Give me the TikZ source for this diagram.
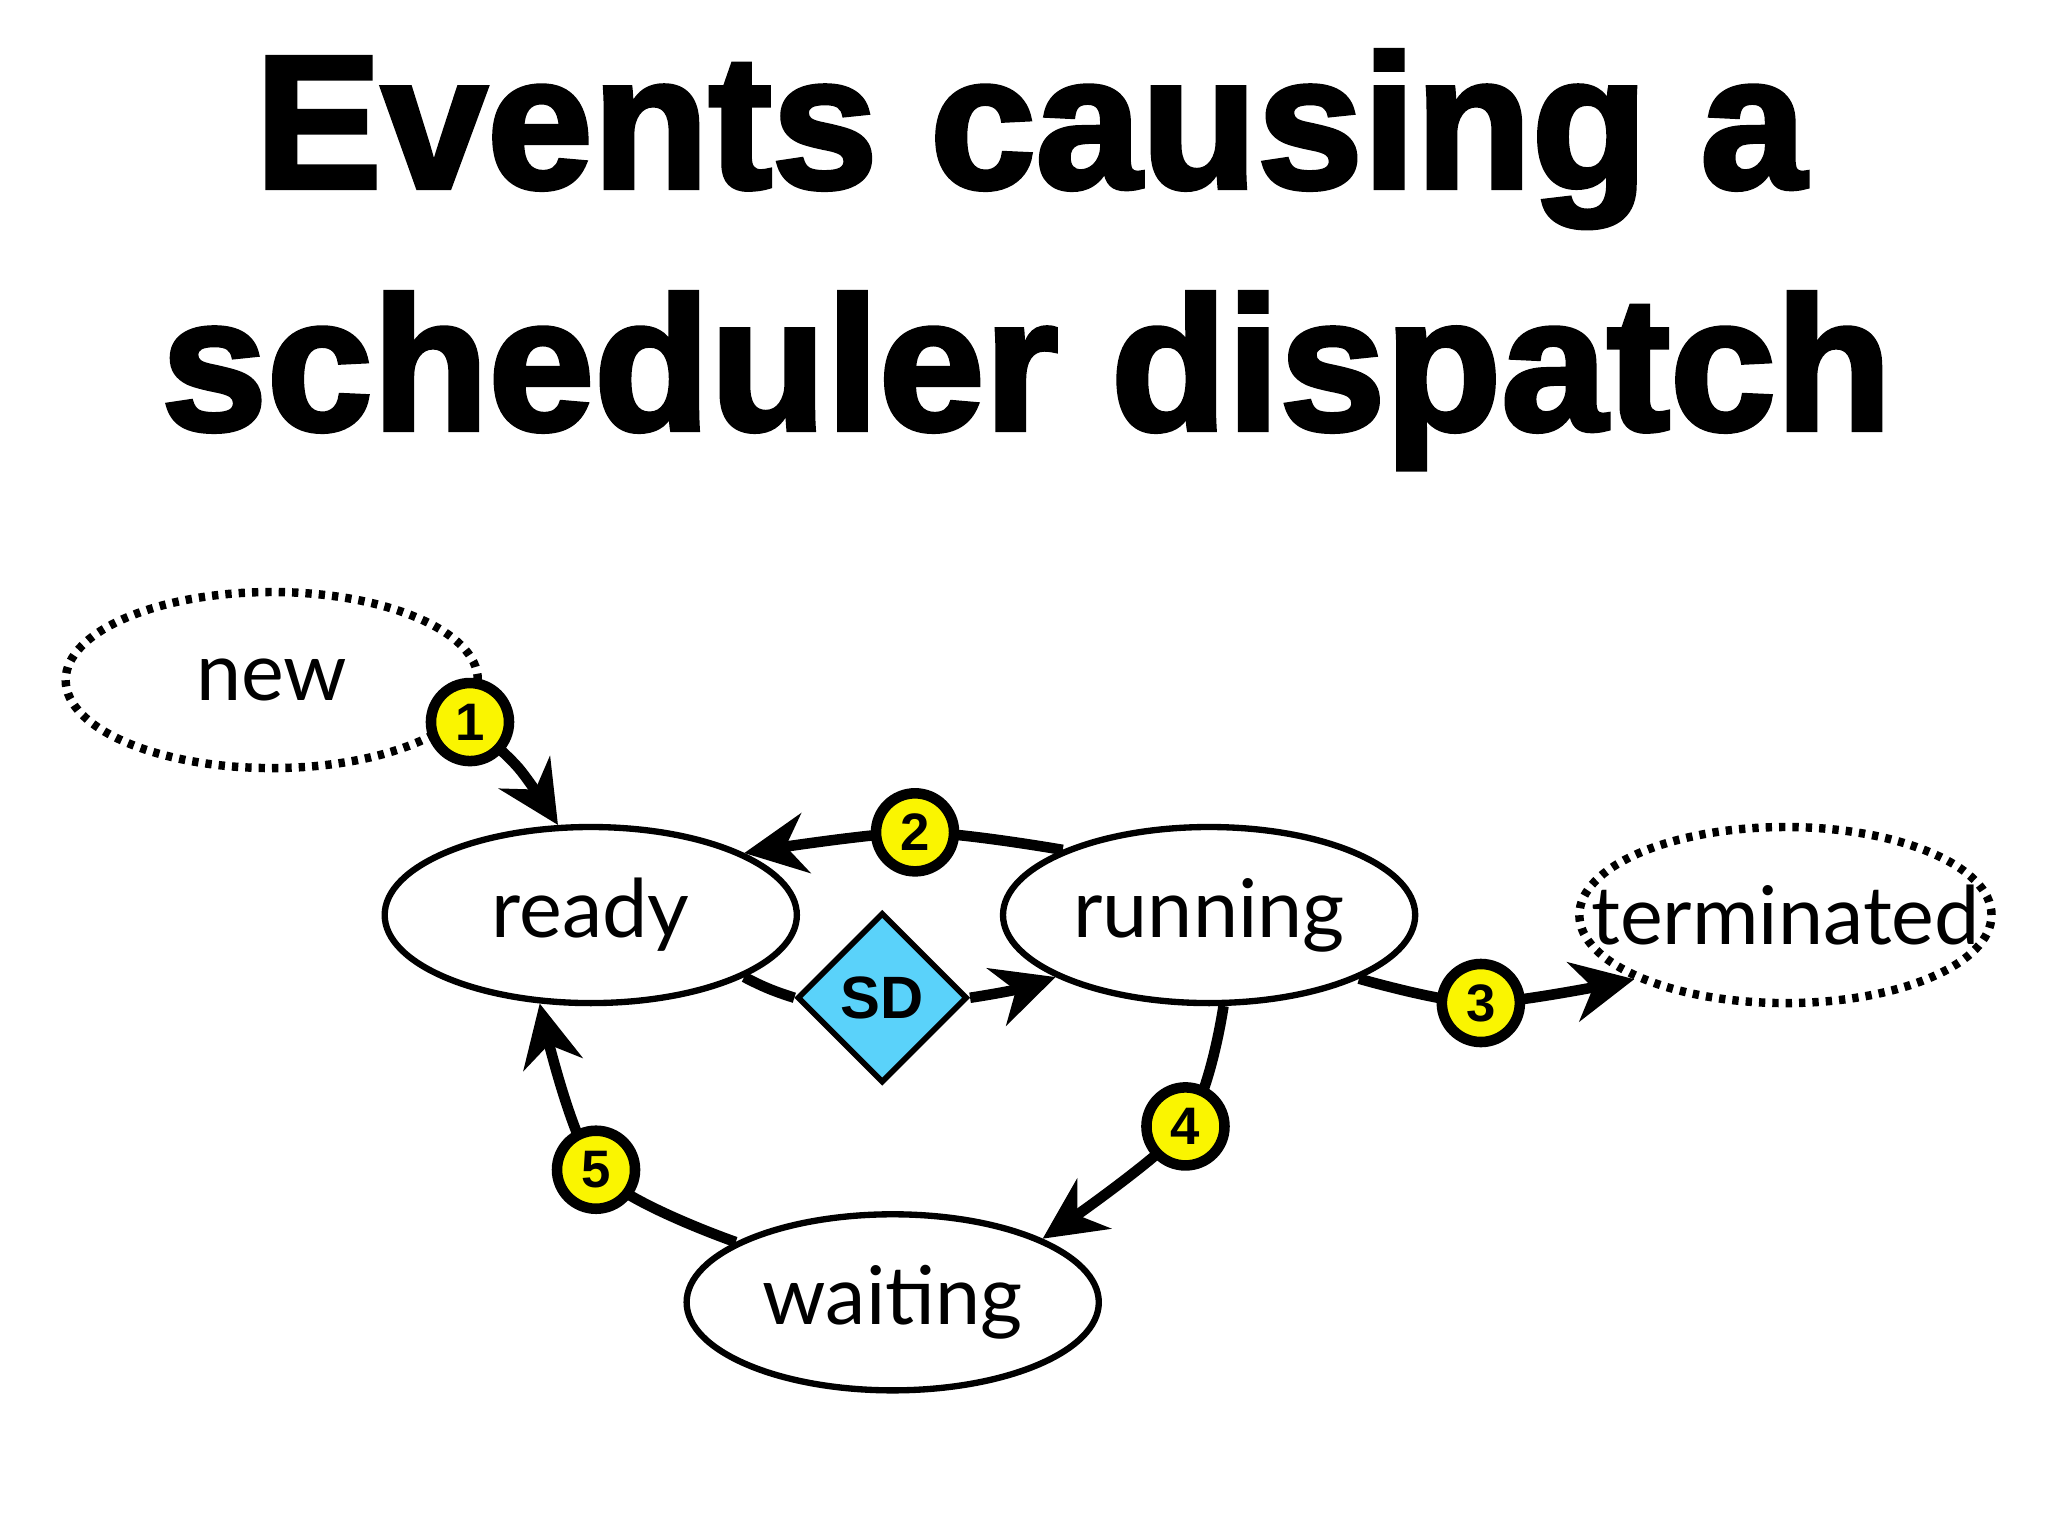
\documentclass[tikz,border=0pt]{standalone}
\usepackage{fontspec}
\setmainfont{Lato}
\newfontfamily\titlefont{Liberation Sans}
\newfontfamily\heavyfont[FakeBold=2.5]{Liberation Sans Bold}
\usetikzlibrary{shapes.geometric,arrows.meta}
\definecolor{sdcyan}{RGB}{90,210,250}
\definecolor{badgey}{RGB}{250,245,0}
\tikzset{
  state/.style={ellipse,draw,line width=1.8pt,minimum width=4.12cm,minimum height=1.76cm,inner sep=0pt,font=\fontsize{23}{23}\selectfont},
  dotstate/.style={state,dotted,line width=2.4pt},
  arr/.style={line width=3pt,-{Stealth[length=0.62cm,width=0.6cm,inset=0.2cm]}},
  badge/.style={circle,draw,fill=badgey,line width=3pt,minimum size=0.78cm,inner sep=0pt,font=\titlefont\bfseries\fontsize{15}{15}\selectfont}
}
\begin{document}
\begin{tikzpicture}[x=0.01313cm,y=-0.01313cm]
\useasboundingbox (0,0) rectangle (1560,1170);
\node[font=\heavyfont\fontsize{54}{54}\selectfont] (t1) at (785,106) {Events causing a};
\node[font=\heavyfont\fontsize{54}{54}\selectfont] (t2) at (782,290) {scheduler dispatch};

\node[dotstate] (new) at (207,518) {new};
\node[state] (ready) at (450,697) {ready};
\node[state] (running) at (921,697) {running};
\node[dotstate,inner xsep=-0.75cm] (term) at (1360,697) {terminated};
\node[state] (waiting) at (680,992) {waiting};
\node[diamond,draw,fill=sdcyan,line width=1.6pt,minimum width=1.7cm,minimum height=1.7cm,inner sep=0pt,font=\titlefont\bfseries\fontsize{17}{17}\selectfont] (sd) at (672,760) {SD};

\coordinate (c1) at (358,550);
\coordinate (c2) at (697,634);
\coordinate (c3) at (1128,764);
\coordinate (c4) at (903,858);
\coordinate (c5) at (454,891);

\draw[arr] plot[smooth] coordinates {(c1) (395,585) (ready.110)};
\draw[arr] plot[smooth] coordinates {(running.156) (c2) (ready.22)};
\draw[line width=3pt] (ready.-22) to[bend right=5] (sd.west);
\draw[arr] (sd.east) to[bend right=5] (running.202);
\draw[arr] plot[smooth] coordinates {(running.-23) (c3) (term.203)};
\draw[arr] plot[smooth] coordinates {(running.-81) (c4) (waiting.23)};
\draw[arr] plot[smooth] coordinates {(waiting.159) (c5) (ready.240)};

\node[badge] (b1) at (c1) {1};
\node[badge] (b2) at (c2) {2};
\node[badge] (b3) at (c3) {3};
\node[badge] (b4) at (c4) {4};
\node[badge] (b5) at (c5) {5};
\end{tikzpicture}
\end{document}
